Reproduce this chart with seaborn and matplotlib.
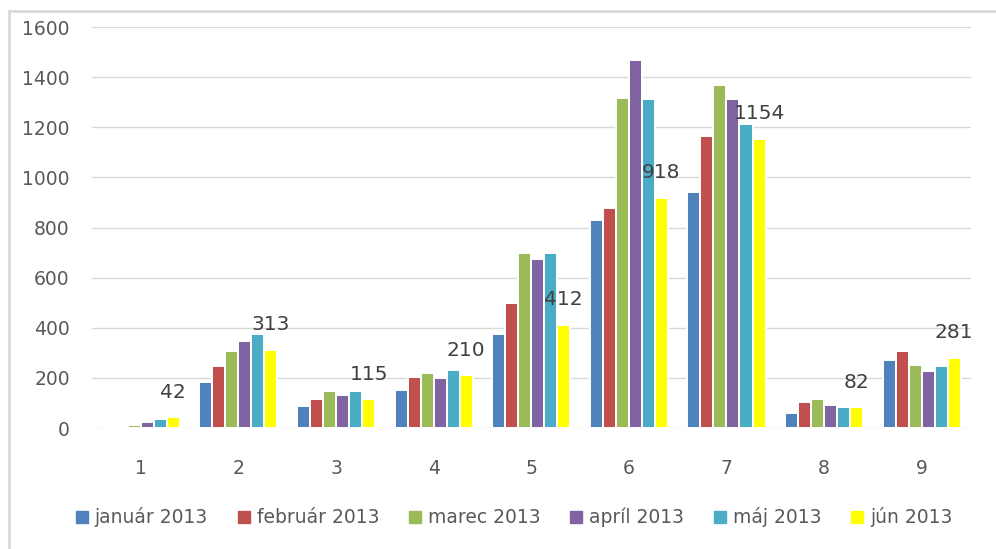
import matplotlib
matplotlib.use("Agg")
import matplotlib.pyplot as plt
import pandas as pd
import seaborn as sns
from matplotlib.lines import Line2D

categories = ["1", "2", "3", "4", "5", "6", "7", "8", "9"]
months = ["január 2013", "február 2013", "marec 2013", "apríl 2013", "máj 2013", "jún 2013"]

jan = [0, 184, 87, 152, 376, 828, 940, 61, 273]
feb = [0, 248, 115, 204, 498, 876, 1164, 105, 306]
mar = [13, 306, 147, 221, 699, 1317, 1367, 114, 253]
apr = [24, 349, 130, 199, 675, 1470, 1314, 93, 227]
maj = [34, 376, 147, 232, 699, 1312, 1212, 82, 249]
jun = [42, 313, 115, 210, 412, 918, 1154, 82, 281]

colors = ["#4F81BD", "#C0504D", "#9BBB59", "#8064A2", "#4BACC6", "#FFFF00"]

series = [jan, feb, mar, apr, maj, jun]
df = pd.DataFrame({
    "cat": categories * len(months),
    "month": [m for m in months for _ in categories],
    "value": [v for s in series for v in s],
})

sns.set_style("white")
plt.rcParams["font.family"] = ["DejaVu Sans"]

fig = plt.figure(figsize=(9.96, 5.49), dpi=100)
ax = fig.add_axes([0.0924, 0.2204, 0.882, 0.7304])

sns.barplot(data=df, x="cat", y="value", hue="month", palette=colors,
            saturation=1, width=0.8, edgecolor="white", linewidth=1.4,
            ax=ax, legend=False)

ax.set_ylim(0, 1600)
ax.set_xlim(-0.5, 8.5)
ax.set_yticks(range(0, 1601, 200))
ax.yaxis.grid(True, color="#D9D9D9", linewidth=1.0)
ax.set_axisbelow(True)
for s in ax.spines.values():
    s.set_visible(False)
ax.tick_params(axis="both", length=0, labelsize=13.5, colors="#595959")
ax.tick_params(axis="y", pad=16)
ax.tick_params(axis="x", pad=22)
ax.set_xlabel("")
ax.set_ylabel("")

# data labels for the last series (jún 2013)
n = len(months)
w = 0.8 / n
for i, v in enumerate(jun):
    x = i - 0.4 + w * (n - 0.5)
    ax.annotate(str(v), (x, v), xytext=(0, 18), textcoords="offset points",
                ha="center", va="center", fontsize=14.5, color="#404040")

handles = [Line2D([], [], marker="s", linestyle="", markersize=9,
                  markerfacecolor=c, markeredgecolor=c) for c in colors]
fig.legend(handles, months, loc="center", bbox_to_anchor=(0.515, 0.058), ncol=6,
           frameon=False, fontsize=13.5, labelcolor="#595959",
           handletextpad=0.25, columnspacing=1.45, handlelength=0.9)

# chart border (top and left edges)
fig.add_artist(Line2D([0.009, 1.0], [1 - 11 / 549, 1 - 11 / 549],
                      transform=fig.transFigure, color="#D9D9D9", linewidth=2))
fig.add_artist(Line2D([0.009, 0.009], [0.0, 1 - 11 / 549],
                      transform=fig.transFigure, color="#D9D9D9", linewidth=2))

fig.savefig("out.png", dpi=100)
